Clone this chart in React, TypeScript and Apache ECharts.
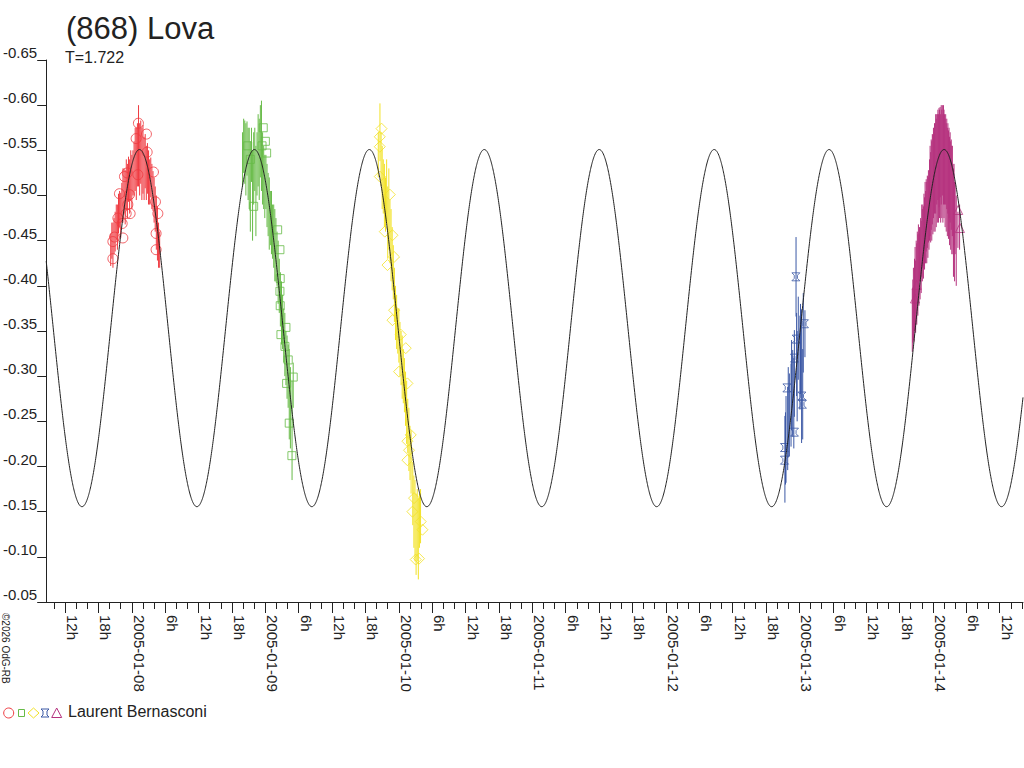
import React, { useEffect, useRef } from "react";
import * as echarts from "echarts";

// ---- axis ranges (hours since 2005-01-07 00:00 UT) ----
const X_MIN = 8.6;
const X_MAX = 184.2;
const Y_MIN = -0.65;
const Y_MAX = -0.05;
const Y_STEP = 0.05;

// ---- model curve parameters ----
const PERIOD_DAYS = 1.722;
const CURVE_EPOCH_H = 25.364; // time of a brightness maximum
const CURVE_MEAN = -0.3532;
const CURVE_AMP = 0.1977;

// ---- colours ----
const RED = "#ef3a40";
const GREEN = "#67bb47";
const YELLOW = "#f2e227";
const BLUE = "#3b58a5";
const MAGENTA = "#b5327e";

// ---- session 1 (red circles) ----
const redBars = [
  [20.2, -0.44, 0.018], [20.4, -0.45, 0.02], [20.6, -0.445, 0.025], [20.8, -0.455, 0.02],
  [21.0, -0.46, 0.022], [21.2, -0.47, 0.02], [21.4, -0.465, 0.025], [21.6, -0.48, 0.022],
  [21.8, -0.485, 0.02], [22.0, -0.478, 0.025], [22.2, -0.492, 0.022], [22.4, -0.5, 0.03],
  [22.6, -0.505, 0.025], [22.8, -0.498, 0.03], [23.0, -0.512, 0.028], [23.2, -0.505, 0.03],
  [23.4, -0.518, 0.025], [23.6, -0.51, 0.03], [23.8, -0.522, 0.028], [24.0, -0.515, 0.03],
  [24.2, -0.525, 0.025], [24.4, -0.53, 0.03], [24.6, -0.54, 0.035], [24.8, -0.535, 0.04],
  [25.0, -0.545, 0.035], [25.2, -0.555, 0.045], [25.4, -0.54, 0.04], [25.6, -0.548, 0.035],
  [25.8, -0.535, 0.04], [26.0, -0.54, 0.038], [26.2, -0.53, 0.035], [26.4, -0.538, 0.03],
  [26.6, -0.525, 0.03], [26.8, -0.53, 0.028], [27.0, -0.52, 0.03], [27.2, -0.515, 0.025],
  [27.4, -0.52, 0.022], [27.6, -0.51, 0.025], [27.8, -0.505, 0.022], [28.0, -0.495, 0.025],
  [28.2, -0.485, 0.025], [28.4, -0.47, 0.03], [28.6, -0.458, 0.03], [28.8, -0.445, 0.025],
  [29.0, -0.44, 0.02],
];
const redMarks = [
  [25.18, -0.58], [24.77, -0.563], [26.62, -0.568], [26.75, -0.548], [23.16, -0.525],
  [22.67, -0.521], [25.08, -0.523], [27.88, -0.526], [21.77, -0.502], [23.57, -0.501],
  [23.28, -0.49], [28.24, -0.493], [28.67, -0.48], [22.98, -0.48], [23.69, -0.48],
  [21.49, -0.475], [22.26, -0.469], [20.88, -0.454], [22.38, -0.453], [28.36, -0.458],
  [20.59, -0.449], [28.36, -0.44], [20.59, -0.43],
];

// ---- session 2 (green squares) ----
const greenBars = [
  [43.9, -0.54, 0.03], [44.1, -0.555, 0.03], [44.3, -0.548, 0.035], [44.5, -0.54, 0.04],
  [44.7, -0.552, 0.03], [44.9, -0.535, 0.04], [45.1, -0.53, 0.045], [45.3, -0.51, 0.05],
  [45.5, -0.545, 0.03], [45.7, -0.5, 0.05], [45.9, -0.53, 0.04], [46.1, -0.54, 0.035],
  [46.3, -0.505, 0.05], [46.5, -0.535, 0.035], [46.7, -0.55, 0.04], [46.9, -0.54, 0.045],
  [47.1, -0.56, 0.04], [47.3, -0.555, 0.05], [47.5, -0.53, 0.04], [47.7, -0.52, 0.035],
  [47.9, -0.51, 0.035], [48.1, -0.515, 0.03], [48.3, -0.5, 0.035], [48.5, -0.49, 0.035],
  [48.7, -0.48, 0.04], [48.9, -0.475, 0.03], [49.1, -0.47, 0.035], [49.3, -0.46, 0.03],
  [49.5, -0.455, 0.035], [49.7, -0.445, 0.04], [49.9, -0.44, 0.035], [50.1, -0.43, 0.03],
  [50.3, -0.415, 0.035], [50.5, -0.4, 0.03], [50.7, -0.385, 0.03], [50.9, -0.37, 0.035],
  [51.1, -0.36, 0.03], [51.3, -0.345, 0.03], [51.5, -0.335, 0.035], [51.7, -0.32, 0.03],
  [51.9, -0.31, 0.035], [52.1, -0.3, 0.035], [52.3, -0.28, 0.05], [52.5, -0.265, 0.045],
  [52.8, -0.24, 0.055], [53.0, -0.29, 0.025],
];
const greenMarks = [
  [44.83, -0.555], [47.62, -0.575], [48.23, -0.547], [45.9, -0.488], [50.21, -0.462],
  [50.62, -0.44], [50.67, -0.408], [50.62, -0.394], [50.67, -0.378], [51.7, -0.354],
  [50.8, -0.346], [51.52, -0.333], [52.11, -0.318], [53.01, -0.299], [51.82, -0.292],
  [52.29, -0.248], [52.77, -0.212], [47.4, -0.555], [48.0, -0.56], [45.3, -0.54],
];

// ---- session 3 (yellow diamonds) ----
const yellowBars = [
  [68.3, -0.545, 0.025], [68.6, -0.57, 0.032], [68.8, -0.54, 0.03], [69.0, -0.52, 0.035],
  [69.2, -0.51, 0.03], [69.4, -0.5, 0.035], [69.6, -0.49, 0.03], [69.8, -0.505, 0.035],
  [70.0, -0.47, 0.04], [70.2, -0.485, 0.045], [70.4, -0.46, 0.035], [70.6, -0.445, 0.04],
  [70.8, -0.43, 0.035], [71.0, -0.415, 0.03], [71.2, -0.39, 0.03], [71.4, -0.37, 0.03],
  [71.6, -0.36, 0.03], [71.8, -0.35, 0.025], [72.0, -0.345, 0.03], [72.2, -0.33, 0.03],
  [72.4, -0.32, 0.03], [72.6, -0.31, 0.035], [72.8, -0.3, 0.03], [73.0, -0.29, 0.03],
  [73.2, -0.275, 0.03], [73.4, -0.26, 0.035], [73.6, -0.245, 0.03], [73.8, -0.23, 0.035],
  [74.0, -0.215, 0.03], [74.2, -0.205, 0.035], [74.5, -0.17, 0.035], [74.7, -0.15, 0.04],
  [74.9, -0.14, 0.045], [75.1, -0.125, 0.045], [75.3, -0.135, 0.04], [75.5, -0.12, 0.045],
  [75.7, -0.14, 0.03], [75.9, -0.145, 0.03],
];
const yellowMarks = [
  [68.88, -0.574], [68.57, -0.565], [68.57, -0.554], [68.57, -0.521], [70.37, -0.501],
  [69.47, -0.46], [70.85, -0.456], [71.14, -0.432], [69.95, -0.423], [71.14, -0.373],
  [70.85, -0.362], [72.34, -0.346], [73.24, -0.331], [72.03, -0.305], [73.54, -0.292],
  [74.13, -0.235], [73.54, -0.228], [73.83, -0.218], [73.54, -0.207], [74.73, -0.165],
  [74.44, -0.15], [75.93, -0.139], [76.24, -0.13], [75.03, -0.097], [75.62, -0.098],
];

// ---- session 4 (blue) ----
const blueBars = [
  [141.4, -0.208, 0.048], [141.5, -0.22, 0.04], [141.6, -0.23, 0.048], [141.9, -0.242, 0.046],
  [142.0, -0.26, 0.05], [142.2, -0.257, 0.046], [142.5, -0.268, 0.046], [142.6, -0.29, 0.05],
  [142.8, -0.281, 0.048], [143.0, -0.27, 0.05], [143.1, -0.303, 0.048], [143.4, -0.41, 0.044],
  [143.5, -0.324, 0.046], [143.6, -0.3, 0.05], [143.8, -0.342, 0.046], [144.1, -0.315, 0.052],
  [144.2, -0.33, 0.05], [144.4, -0.3, 0.074], [144.6, -0.28, 0.05], [144.7, -0.348, 0.044],
  [145.0, -0.347, 0.026],
];
const blueMarks = [
  [143.37, -0.41], [144.91, -0.358], [143.42, -0.341], [143.12, -0.32], [141.75, -0.287],
  [144.45, -0.278], [144.55, -0.269], [143.12, -0.238], [141.32, -0.221], [141.32, -0.207],
];

// ---- session 5 (magenta triangles) ----
const magentaBars = [
  [164.3, -0.362, 0.035], [164.4, -0.372, 0.035], [164.5, -0.38, 0.04], [164.6, -0.368, 0.03],
  [164.7, -0.39, 0.04], [164.8, -0.398, 0.045], [164.9, -0.388, 0.04], [165.0, -0.41, 0.04],
  [165.1, -0.402, 0.045], [165.2, -0.42, 0.04], [165.3, -0.412, 0.045], [165.4, -0.428, 0.04],
  [165.5, -0.418, 0.04], [165.6, -0.435, 0.03], [165.7, -0.425, 0.04], [165.8, -0.44, 0.035],
  [165.9, -0.432, 0.04], [166.0, -0.45, 0.04], [166.1, -0.445, 0.04], [166.2, -0.455, 0.035],
  [166.3, -0.448, 0.04], [166.4, -0.462, 0.04], [166.5, -0.458, 0.04], [166.6, -0.47, 0.045],
  [166.7, -0.465, 0.04], [166.8, -0.478, 0.04], [166.9, -0.47, 0.045], [167.0, -0.482, 0.04],
  [167.1, -0.476, 0.045], [167.2, -0.488, 0.04], [167.3, -0.48, 0.04], [167.4, -0.495, 0.045],
  [167.5, -0.505, 0.05], [167.6, -0.498, 0.05], [167.7, -0.512, 0.05], [167.8, -0.505, 0.055],
  [167.9, -0.518, 0.05], [168.0, -0.512, 0.055], [168.1, -0.525, 0.05], [168.2, -0.515, 0.055],
  [168.3, -0.53, 0.05], [168.4, -0.52, 0.06], [168.5, -0.535, 0.055], [168.6, -0.525, 0.06],
  [168.7, -0.54, 0.05], [168.8, -0.53, 0.06], [168.9, -0.545, 0.05], [169.0, -0.53, 0.06],
  [169.1, -0.542, 0.055], [169.2, -0.535, 0.06], [169.3, -0.548, 0.05], [169.4, -0.53, 0.06],
  [169.5, -0.545, 0.055], [169.6, -0.535, 0.06], [169.7, -0.55, 0.05], [169.8, -0.53, 0.06],
  [169.9, -0.545, 0.055], [170.0, -0.535, 0.06], [170.1, -0.54, 0.05], [170.2, -0.525, 0.06],
  [170.3, -0.54, 0.05], [170.4, -0.52, 0.06], [170.5, -0.535, 0.05], [170.6, -0.515, 0.06],
  [170.7, -0.53, 0.05], [170.8, -0.512, 0.06], [170.9, -0.525, 0.05], [171.0, -0.505, 0.06],
  [171.1, -0.52, 0.05], [171.2, -0.5, 0.06], [171.3, -0.512, 0.05], [171.4, -0.495, 0.06],
  [171.5, -0.505, 0.05], [171.6, -0.485, 0.05], [171.7, -0.47, 0.06], [171.8, -0.49, 0.045],
  [171.9, -0.46, 0.055], [172.0, -0.475, 0.04], [172.2, -0.45, 0.05], [172.5, -0.462, 0.02],
  [172.8, -0.465, 0.025],
];
const magentaMarks = [
  [164.78, -0.386], [165.09, -0.401], [172.55, -0.484], [172.86, -0.464],
];

const OBSERVER = "Laurent Bernasconi";
const TITLE = "(868) Lova";
const SUBTITLE = "T=1.722";
const COPYRIGHT = "©2026 OdG-RB";

const FONT = '"Liberation Sans", Arial, sans-serif';
const INK = "#222222";
const BLUE_SYMBOL = "path://M0,0H10L7,3V7L10,10H0L3,7V3Z";

function buildCurve(): number[][] {
  const half = (PERIOD_DAYS * 24) / 2;
  const pts: number[][] = [];
  for (let h = X_MIN; h <= X_MAX + 1e-9; h += 0.05) {
    const v = CURVE_MEAN - CURVE_AMP * Math.cos((2 * Math.PI * (h - CURVE_EPOCH_H)) / half);
    pts.push([h, v]);
  }
  return pts;
}

function ticks(step: number, keep: (h: number) => boolean): number[] {
  const out: number[] = [];
  const start = Math.ceil(X_MIN / step) * step;
  for (let h = start; h <= X_MAX; h += step) if (keep(h)) out.push(h);
  return out;
}

function errorBars(name: string, data: number[][], color: string) {
  return {
    name,
    type: "custom",
    xAxisIndex: 0,
    yAxisIndex: 0,
    data,
    encode: { x: 0, y: 1 },
    z: 2,
    renderItem: (_p: any, api: any) => {
      const x = api.value(0);
      const v = api.value(1);
      const e = api.value(2);
      const a = api.coord([x, v - e]);
      const b = api.coord([x, v + e]);
      return {
        type: "line",
        shape: { x1: a[0], y1: a[1], x2: b[0], y2: b[1] },
        style: { stroke: color, lineWidth: 1 },
      };
    },
  };
}

function marks(name: string, data: number[][], color: string, symbol: string, size: number) {
  return {
    name,
    type: "scatter",
    xAxisIndex: 0,
    yAxisIndex: 0,
    data,
    symbol,
    symbolSize: size,
    z: 3,
    itemStyle: { color: "rgba(0,0,0,0)", borderColor: color, borderWidth: 1 },
  };
}

export default function App() {
  const ref = useRef<HTMLDivElement>(null);

  useEffect(() => {
    if (!ref.current) return;
    const chart = echarts.init(ref.current, undefined, { renderer: "svg" });
    const shortTicks = ticks(2, (h) => h % 6 !== 0);
    const longTicks = ticks(6, () => true);

    const option: any = {
      animation: false,
      backgroundColor: "#ffffff",
      textStyle: { fontFamily: FONT },
      grid: { left: 45, right: 1, top: 60, bottom: 166, containLabel: false },
      xAxis: [
        {
          type: "value",
          min: X_MIN,
          max: X_MAX,
          position: "bottom",
          axisLine: { show: true, onZero: false, lineStyle: { color: INK, width: 1 } },
          axisTick: { show: true, customValues: shortTicks, length: 7, lineStyle: { color: INK } },
          axisLabel: { show: false },
          splitLine: { show: false },
        },
        {
          type: "value",
          min: X_MIN,
          max: X_MAX,
          position: "bottom",
          offset: 0,
          axisLine: { show: false, onZero: false },
          axisTick: { show: true, customValues: longTicks, length: 11, lineStyle: { color: INK } },
          axisLabel: {
            show: true,
            customValues: longTicks,
            rotate: -90,
            margin: 13,
            fontSize: 15,
            color: INK,
            fontFamily: FONT,
            align: "left",
            verticalAlign: "bottom",
            formatter: (h: number) => {
              const r = Math.round(h);
              if (r % 24 === 0) return "2005-01-" + String(7 + r / 24).padStart(2, "0");
              return (r % 24) + "h";
            },
          },
          splitLine: { show: false },
        },
      ],
      yAxis: {
        type: "value",
        inverse: true,
        min: Y_MIN,
        max: Y_MAX,
        interval: Y_STEP,
        axisLine: { show: true, onZero: false, lineStyle: { color: INK, width: 1 } },
        axisTick: { show: true, length: 9, inside: false, lineStyle: { color: INK } },
        axisLabel: {
          fontSize: 15,
          color: INK,
          fontFamily: FONT,
          margin: 9,
          verticalAlign: "bottom",
          formatter: (v: number) => v.toFixed(2),
        },
        splitLine: { show: false },
      },
      series: [
        errorBars("redBars", redBars, RED),
        errorBars("greenBars", greenBars, GREEN),
        errorBars("yellowBars", yellowBars, YELLOW),
        errorBars("blueBars", blueBars, BLUE),
        errorBars("magentaBars", magentaBars, MAGENTA),
        marks("red", redMarks, RED, "circle", 10),
        marks("green", greenMarks, GREEN, "rect", 8),
        marks("yellow", yellowMarks, YELLOW, "diamond", 11),
        marks("blue", blueMarks, BLUE, BLUE_SYMBOL, 8),
        marks("magenta", magentaMarks, MAGENTA, "triangle", 9),
        {
          name: "model",
          type: "line",
          xAxisIndex: 0,
          yAxisIndex: 0,
          data: buildCurve(),
          showSymbol: false,
          symbol: "none",
          z: 5,
          lineStyle: { color: INK, width: 1 },
        },
      ],
      graphic: [
        { type: "text", left: 66, top: 13, style: { text: TITLE, font: `31px ${FONT}`, fill: INK } },
        { type: "text", left: 65, top: 49, style: { text: SUBTITLE, font: `16px ${FONT}`, fill: INK } },
        {
          type: "text",
          x: 0,
          y: 613,
          rotation: -Math.PI / 2,
          style: { text: COPYRIGHT, font: `10px ${FONT}`, fill: INK, textAlign: "left", textVerticalAlign: "bottom" },
        },
        { type: "circle", shape: { cx: 8.7, cy: 713, r: 5 }, style: { fill: "none", stroke: RED, lineWidth: 1 } },
        { type: "rect", shape: { x: 18.5, y: 709.5, width: 6, height: 7 }, style: { fill: "none", stroke: GREEN, lineWidth: 1 } },
        {
          type: "polygon",
          shape: { points: [[33.5, 708], [39, 713], [33.5, 718], [28, 713]] },
          style: { fill: "none", stroke: YELLOW, lineWidth: 1 },
        },
        {
          type: "polygon",
          shape: { points: [[41, 709], [49, 709], [47, 711], [47, 715], [49, 717], [41, 717], [43, 715], [43, 711]] },
          style: { fill: "none", stroke: BLUE, lineWidth: 1 },
        },
        {
          type: "polygon",
          shape: { points: [[56.7, 708], [61.7, 717.5], [51.7, 717.5]] },
          style: { fill: "none", stroke: MAGENTA, lineWidth: 1 },
        },
        { type: "text", left: 68, top: 703, style: { text: OBSERVER, font: `16px ${FONT}`, fill: INK } },
      ],
    };
    chart.setOption(option);
    return () => chart.dispose();
  }, []);

  return (
    <div
      ref={ref}
      style={{ position: "absolute", left: 0, top: 0, width: 1024, height: 768, background: "#fff" }}
    />
  );
}
